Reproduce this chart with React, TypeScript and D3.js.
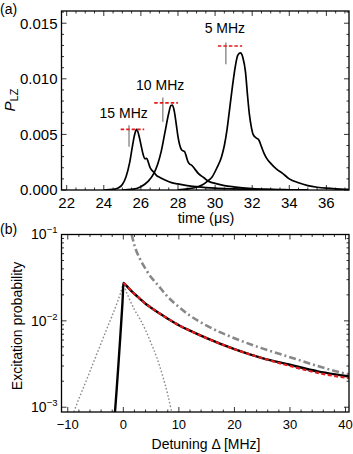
import React from "react";
import * as d3 from "d3";

// ---- panel (a): P_LZ vs time, three sweep rates ----
const t15 = [24.0, 24.5, 24.8, 25.0, 25.2, 25.4, 25.55, 25.68, 25.77, 25.88, 26.0, 26.12, 26.22, 26.31, 26.4, 26.5, 26.58, 26.7, 26.85, 27.0, 27.3, 27.65, 28.0, 28.5, 29.0, 30.0, 31.0, 32.0, 33.0, 34.0, 35.0];
const p15 = [0.0, 0.00005, 0.0002, 0.0005, 0.0012, 0.0025, 0.004, 0.0051, 0.00545, 0.005, 0.0041, 0.0032, 0.0028, 0.00285, 0.0025, 0.002, 0.0018, 0.0016, 0.0013, 0.00115, 0.0009, 0.00066, 0.00055, 0.0004, 0.0003, 0.00016, 0.0001, 0.00006, 0.00003, 0.00001, 0.0];

const t10 = [25.0, 25.5, 26.0, 26.4, 26.7, 26.9, 27.1, 27.3, 27.5, 27.62, 27.7, 27.8, 27.9, 28.0, 28.1, 28.2, 28.3, 28.36, 28.45, 28.55, 28.65, 28.73, 28.9, 29.09, 29.4, 29.64, 30.0, 30.5, 31.0, 32.0, 33.0, 34.0, 35.0];
const p10 = [0.0, 0.00005, 0.0003, 0.0008, 0.0015, 0.0023, 0.0035, 0.0052, 0.0069, 0.0076, 0.00763, 0.0071, 0.006, 0.0048, 0.004, 0.0036, 0.0035, 0.00344, 0.003, 0.0025, 0.0023, 0.00224, 0.0019, 0.0015, 0.0011, 0.00078, 0.0006, 0.0004, 0.00028, 0.00012, 0.00005, 0.00002, 0.0];

const t5 = [28.0, 28.5, 29.0, 29.3, 29.6, 29.85, 30.1, 30.35, 30.5, 30.65, 30.8, 30.95, 31.1, 31.22, 31.36, 31.5, 31.64, 31.75, 31.85, 31.95, 32.05, 32.2, 32.36, 32.5, 32.64, 32.8, 33.0, 33.3, 33.64, 34.0, 34.5, 35.0, 35.5, 36.0, 36.5, 37.0, 37.2];
const p5 = [0.00002, 0.0001, 0.00025, 0.00045, 0.0008, 0.0012, 0.002, 0.003, 0.004, 0.0055, 0.0075, 0.0095, 0.0112, 0.0121, 0.01233, 0.0119, 0.0106, 0.0085, 0.0068, 0.0057, 0.005, 0.0047, 0.0045, 0.0039, 0.0033, 0.0028, 0.0024, 0.0019, 0.0015, 0.001, 0.00065, 0.0004, 0.00025, 0.00016, 0.0001, 0.00006, 0.00005];

// markers per rate: label, red dashed level, gray vertical bar
const rateLabels = ["15 MHz", "10 MHz", "5 MHz"];
const labelT = [25.07, 27.04, 30.53];
const labelP = [0.00646, 0.00898, 0.0141];
const redT0 = [24.91, 26.72, 30.15];
const redT1 = [26.18, 28.0, 31.46];
const redP = [0.00545, 0.00784, 0.01295];
const barT = [25.36, 27.18, 30.58];
const barP0 = [0.00389, 0.00613, 0.01131];
const barP1 = [0.00583, 0.00832, 0.01326];

const xTicksA = [22, 24, 26, 28, 30, 32, 34, 36];
const yTicksA = [0, 0.005, 0.01, 0.015];
const yLabelsA = ["0.000", "0.005", "0.010", "0.015"];

// ---- panel (b): excitation probability vs detuning ----
const dBlack = [-1.5, -1.2, -0.9, -0.6, -0.3, -0.1, 0, 0.5, 1, 2, 3, 4, 5, 6, 8, 10, 12, 15, 20, 25, 30, 35, 40, 40.7];
const pBlack = [0.00088, 0.0016, 0.003, 0.0058, 0.0115, 0.019, 0.0275, 0.0258, 0.0238, 0.0205, 0.018, 0.0158, 0.0142, 0.0128, 0.0106, 0.0089, 0.0077, 0.0063, 0.0047, 0.0037, 0.0031, 0.0026, 0.0023, 0.00226];

const dRed = [0, 0.5, 1, 2, 3, 4, 5, 6, 8, 10, 12, 15, 20, 25, 30, 35, 40, 40.7];
const pRed = [0.0275, 0.0258, 0.0238, 0.0205, 0.018, 0.0158, 0.0142, 0.0128, 0.0106, 0.0089, 0.0077, 0.0063, 0.0047, 0.0037, 0.003, 0.0025, 0.0022, 0.00217];

const dDashDot = [1.5, 2, 3, 4, 5, 6, 8, 10, 12, 15, 20, 25, 30, 35, 40, 40.7];
const pDashDot = [0.1, 0.075, 0.052, 0.04, 0.032, 0.027, 0.019, 0.0145, 0.0115, 0.0088, 0.0063, 0.0048, 0.0038, 0.003, 0.00245, 0.0024];

const dDotted = [-8.9, -8, -7, -6, -5, -4, -3, -2, -1, -0.5, 0, 0.5, 1, 2, 3, 4, 5, 6, 7, 8, 8.7];
const pDotted = [0.00088, 0.00125, 0.0018, 0.0026, 0.0038, 0.0055, 0.008, 0.0115, 0.017, 0.021, 0.026, 0.022, 0.0185, 0.0135, 0.0105, 0.0078, 0.0055, 0.0038, 0.0024, 0.0014, 0.00088];

const xTicksB = [-10, 0, 10, 20, 30, 40];
const yTicksB = [0.001, 0.01, 0.1];
const yExpB = ["\u22123", "\u22122", "\u22121"];

const FONT = "'Liberation Sans', Arial, Helvetica, sans-serif";
const RED = "#e41a1c";

const zip = (xs: number[], ys: number[]) => xs.map((x, i) => [x, ys[i]] as [number, number]);

function Frame({ x, y, xMajor, xMinor, yMajor, yMinor }: any) {
  const [x0, x1] = x.range();
  const [y0, y1] = y.range(); // y0 bottom, y1 top
  const lines: JSX.Element[] = [];
  const tick = (k: string, a: number, b: number, c: number, d: number) =>
    lines.push(<line key={k} x1={a} y1={b} x2={c} y2={d} stroke="#000" strokeWidth={0.8} />);
  xMajor.forEach((v: number, i: number) => {
    const px = x(v);
    tick("xb" + i, px, y0, px, y0 - 5);
    tick("xt" + i, px, y1, px, y1 + 5);
  });
  xMinor.forEach((v: number, i: number) => {
    const px = x(v);
    tick("xbm" + i, px, y0, px, y0 - 2.5);
    tick("xtm" + i, px, y1, px, y1 + 2.5);
  });
  yMajor.forEach((v: number, i: number) => {
    const py = y(v);
    tick("yl" + i, x0, py, x0 + 5, py);
    tick("yr" + i, x1, py, x1 - 5, py);
  });
  yMinor.forEach((v: number, i: number) => {
    const py = y(v);
    tick("ylm" + i, x0, py, x0 + 2.5, py);
    tick("yrm" + i, x1, py, x1 - 2.5, py);
  });
  return (
    <g>
      {lines}
      <rect x={x0} y={y1} width={x1 - x0} height={y0 - y1} fill="none" stroke="#000" strokeWidth={1.3} />
    </g>
  );
}

export default function App() {
  // panel (a) scales
  const xA = d3.scaleLinear().domain([21.72, 37.22]).range([61.5, 349]);
  const yA = d3.scaleLinear().domain([0, 0.0161]).range([190, 11]);
  const lineA = d3
    .line<[number, number]>()
    .x((d) => xA(d[0]))
    .y((d) => yA(d[1]))
    .curve(d3.curveMonotoneX);

  // panel (b) scales
  const xB = d3.scaleLinear().domain([-11.13, 40.63]).range([61.5, 349]);
  const yB = d3.scaleLog().domain([0.00088, 0.1]).range([412, 234.5]);
  const lineB = d3
    .line<[number, number]>()
    .x((d) => xB(d[0]))
    .y((d) => yB(d[1]))
    .curve(d3.curveMonotoneX);

  const xMinorA = d3.range(22, 37.2, 0.5).filter((v) => Math.abs(v % 2) > 1e-6);
  const yMinorA = d3.range(0, 0.0161, 0.001).filter((v) => Math.abs((v / 0.005) - Math.round(v / 0.005)) > 1e-6);
  const xMinorB = d3.range(-10, 40.1, 2).filter((v) => Math.abs(v % 10) > 1e-6);
  const yMinorB: number[] = [];
  [0.001, 0.01].forEach((dec) => d3.range(2, 10).forEach((m) => yMinorB.push(dec * m)));

  return (
    <svg width={353} height={454} style={{ position: "absolute", left: 0, top: 0, background: "#fff" }} fontFamily={FONT}>
      <defs>
        <clipPath id="clipA">
          <rect x={61.5} y={11} width={287.5} height={179} />
        </clipPath>
        <clipPath id="clipB">
          <rect x={61.5} y={234.5} width={287.5} height={177.5} />
        </clipPath>
      </defs>

      {/* ---------- panel (a) ---------- */}
      <text x={0} y={13.5} fontSize={14}>(a)</text>
      <g clipPath="url(#clipA)">
        {[zip(t15, p15), zip(t10, p10), zip(t5, p5)].map((pts, i) => (
          <path key={i} d={lineA(pts) || ""} fill="none" stroke="#000" strokeWidth={1.7} />
        ))}
      </g>
      {rateLabels.map((lab, i) => (
        <g key={lab}>
          <line x1={xA(barT[i])} x2={xA(barT[i])} y1={yA(barP0[i])} y2={yA(barP1[i])} stroke="#999" strokeWidth={1.6} />
          <line x1={xA(redT0[i])} x2={xA(redT1[i])} y1={yA(redP[i])} y2={yA(redP[i])} stroke={RED} strokeWidth={1.6} strokeDasharray="3.5,2" />
          <text x={xA(labelT[i])} y={yA(labelP[i])} fontSize={14} textAnchor="middle">{lab}</text>
        </g>
      ))}
      <Frame x={xA} y={yA} xMajor={xTicksA} xMinor={xMinorA} yMajor={yTicksA} yMinor={yMinorA} />
      {xTicksA.map((v) => (
        <text key={v} x={xA(v)} y={207.5} fontSize={15} textAnchor="middle">{v}</text>
      ))}
      {yTicksA.map((v, i) => (
        <text key={v} x={57.5} y={yA(v) + 5.3} fontSize={15} textAnchor="end">{yLabelsA[i]}</text>
      ))}
      <text transform="translate(15,100) rotate(-90)" fontSize={15} textAnchor="middle">
        <tspan fontStyle="italic">P</tspan>
        <tspan fontSize={11} dy={3}>LZ</tspan>
      </text>
      <text x={206} y={223} fontSize={14.5} textAnchor="middle">time (μs)</text>

      {/* ---------- panel (b) ---------- */}
      <text x={0} y={234} fontSize={14}>(b)</text>
      <g clipPath="url(#clipB)">
        <path d={lineB(zip(dDotted, pDotted)) || ""} fill="none" stroke="#8a8a8a" strokeWidth={1.4} strokeDasharray="1.6,2" />
        <path d={lineB(zip(dDashDot, pDashDot)) || ""} fill="none" stroke="#888" strokeWidth={2.6} strokeDasharray="7,3,2,3" />
        <path d={lineB(zip(dBlack, pBlack)) || ""} fill="none" stroke="#000" strokeWidth={2.4} />
        <path d={lineB(zip(dRed, pRed)) || ""} fill="none" stroke={RED} strokeWidth={2.2} strokeDasharray="4,2.5" />
      </g>
      <Frame x={xB} y={yB} xMajor={xTicksB} xMinor={xMinorB} yMajor={yTicksB} yMinor={yMinorB} />
      {xTicksB.map((v) => (
        <text key={v} x={xB(v)} y={428.5} fontSize={13} textAnchor="middle">{v < 0 ? "\u2212" + Math.abs(v) : v}</text>
      ))}
      {yTicksB.map((v, i) => (
        <text key={v} x={57.5} y={yB(v) + 4.8} fontSize={14} textAnchor="end">
          10<tspan fontSize={9.5} dy={-6}>{yExpB[i]}</tspan>
        </text>
      ))}
      <text transform="translate(22,326) rotate(-90)" fontSize={14} textAnchor="middle">Excitation probability</text>
      <text x={206} y={449} fontSize={14} textAnchor="middle">Detuning Δ [MHz]</text>
    </svg>
  );
}
